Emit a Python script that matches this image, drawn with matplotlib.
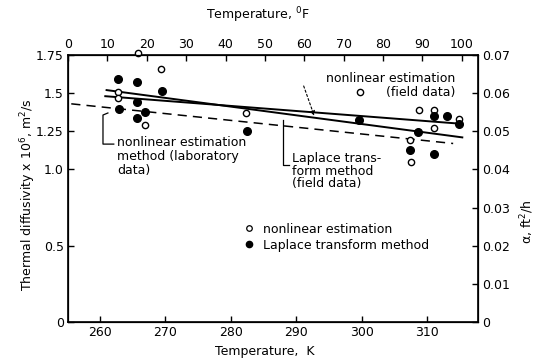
import matplotlib
matplotlib.use("Agg")
import matplotlib.pyplot as plt
from matplotlib.lines import Line2D

# ---- data ----
open_T = [262.8, 262.8, 265.8, 269.3, 266.9, 282.3, 299.8, 308.8, 311.1, 314.9, 311.0, 307.4, 307.6]
open_v = [1.51, 1.47, 1.76, 1.66, 1.29, 1.37, 1.51, 1.39, 1.39, 1.33, 1.27, 1.19, 1.05]
filled_T = [262.8, 265.6, 269.4, 265.6, 262.9, 266.8, 265.6, 282.4, 299.6, 311.1, 313.1, 314.9, 308.7, 307.4, 311.1]
filled_v = [1.595, 1.57, 1.515, 1.443, 1.394, 1.377, 1.34, 1.25, 1.325, 1.353, 1.353, 1.30, 1.245, 1.13, 1.10]

fit_nl_field_T = [260.8, 315.0]
fit_nl_field_v = [1.48, 1.30]
fit_lap_field_T = [261.0, 315.4]
fit_lap_field_v = [1.52, 1.21]
fit_nl_lab_T = [255.6, 314.0]
fit_nl_lab_v = [1.43, 1.17]

left_ticks = [0, 0.5, 1.0, 1.25, 1.5, 1.75]
left_ticklabels = ["0", "0.5", "1.0", "1.25", "1.5", "1.75"]
right_ticks = [0, 0.01, 0.02, 0.03, 0.04, 0.05, 0.06, 0.07]
right_ticklabels = ["0", "0.01", "0.02", "0.03", "0.04", "0.05", "0.06", "0.07"]
bottom_ticks = [260, 270, 280, 290, 300, 310]
top_ticks = [0, 10, 20, 30, 40, 50, 60, 70, 80, 90, 100]

plt.rcParams['font.family'] = ['DejaVu Sans']
plt.rcParams['font.size'] = 9

fig = plt.figure(figsize=(5.39, 3.60), dpi=100)
ax = fig.add_axes([68/539, 1-322/360, (478-68)/539, (322-55)/360])

ax.set_xlim(255.1, 317.8)
ax.set_ylim(0, 1.75)

# fitted lines
ax.plot(fit_nl_field_T, fit_nl_field_v, color='black', lw=1.4)
ax.plot(fit_lap_field_T, fit_lap_field_v, color='black', lw=1.4)
ax.plot(fit_nl_lab_T, fit_nl_lab_v, color='black', lw=1.1, dashes=(6, 4))

# points
ax.plot(open_T, open_v, 'o', ms=4.5, mfc='white', mec='black', mew=1.0, ls='none',
        clip_on=False, zorder=5)
ax.plot(filled_T, filled_v, 'o', ms=5.5, mfc='black', mec='black', ls='none',
        clip_on=False, zorder=5)

ax.set_yticks(left_ticks)
ax.set_yticklabels(left_ticklabels)
ax.set_xticks(bottom_ticks)
ax.tick_params(direction='in', length=4, width=1, pad=3)
for s in ax.spines.values():
    s.set_linewidth(1.2)

# right axis
ax2 = ax.twinx()
ax2.set_ylim(0, 0.07)
ax2.set_yticks(right_ticks)
ax2.set_yticklabels(right_ticklabels)
ax2.tick_params(direction='in', length=4, width=1, pad=3)

# top axis
ax3 = ax.twiny()
ax3.set_xlim(0, 104.1)
ax3.set_xticks(top_ticks)
ax3.set_xticklabels([str(t) for t in top_ticks])
ax3.tick_params(direction='in', length=4, width=1, pad=3)

# annotations
ax.text(314.3, 1.64, "nonlinear estimation\n(field data)", ha='right', va='top',
        multialignment='right', linespacing=1.1)
ax.annotate("", xy=(292.9, 1.334), xytext=(291.0, 1.564),
            arrowprops=dict(arrowstyle='-|>', lw=0.8, ls=(0, (2, 2)), color='black',
                            mutation_scale=7))

ax.text(289.35, 1.114, "Laplace trans-\nform method\n(field data)", ha='left', va='top',
        linespacing=0.95)
ax.plot([287.97, 287.97, 288.9], [1.324, 1.029, 1.029], color='black', lw=0.9)

ax.text(262.6, 1.219, "nonlinear estimation\nmethod (laboratory\ndata)", ha='left', va='top',
        linespacing=1.1)
ax.plot([261.2, 260.45, 260.45, 262.1], [1.37, 1.3565, 1.166, 1.166], color='black', lw=0.9)

# legend
handles = [
    Line2D([], [], marker='o', ls='none', ms=4, mfc='white', mec='black', mew=0.9),
    Line2D([], [], marker='o', ls='none', ms=4.5, mfc='black', mec='black'),
]
ax.legend(handles, ["nonlinear estimation", "Laplace transform method"],
          loc='upper left', bbox_to_anchor=(0.405, 0.405), frameon=False,
          handlelength=1.0, handletextpad=0.6, labelspacing=0.25, borderpad=0.2)

# axis labels
fig.text(28/539, 1-195/360, "Thermal diffusivity x 10$^6$, m$^2$/s", rotation=90,
         ha='center', va='center')
fig.text(527/539, 1-222/360, "α, ft$^2$/h", rotation=90, ha='center', va='center')
fig.text(265/539, 1-352/360, "Temperature,  K", ha='center', va='center')
fig.text(258/539, 1-15/360, "Temperature, $^0$F", ha='center', va='center')

fig.savefig("out.png", dpi=100)
